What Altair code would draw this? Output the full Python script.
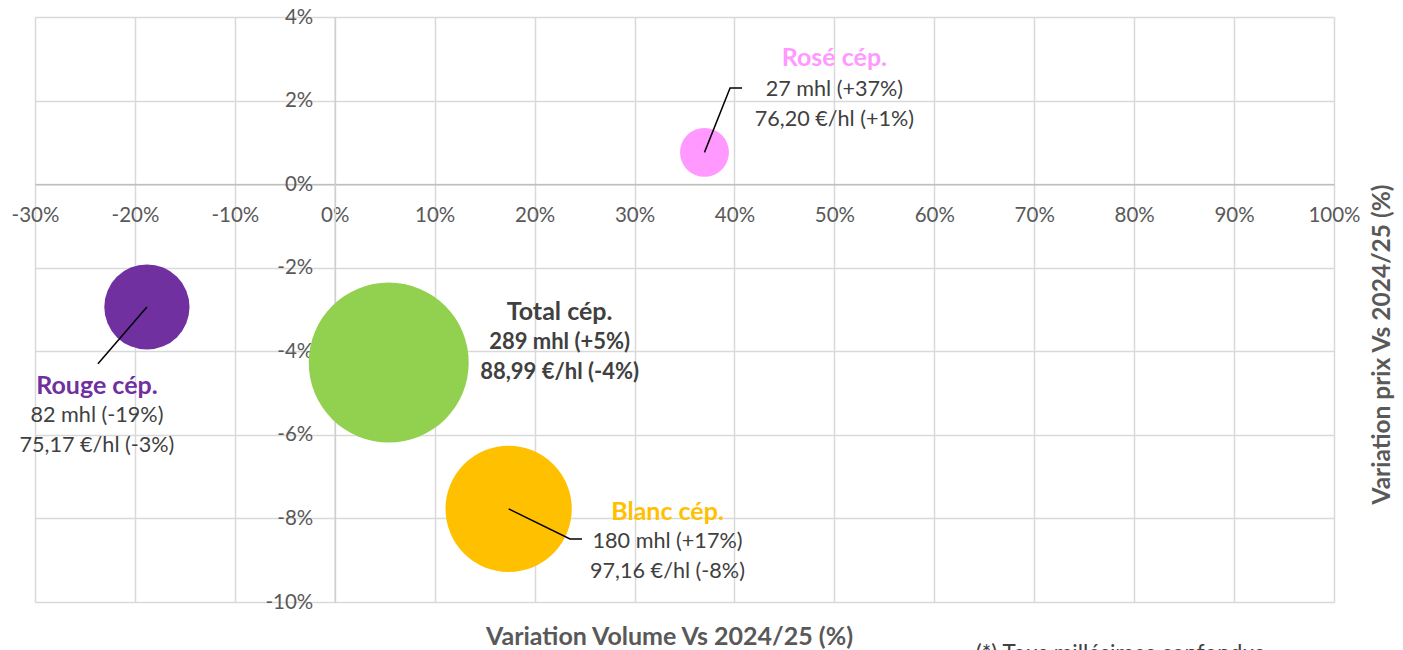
import math
import altair as alt
import pandas as pd

FONT = "Lato"

# ---- data ----
names = ["Rosé cép.", "Rouge cép.", "Total cép.", "Blanc cép."]
vol_var = [37.0, -18.8, 5.4, 17.4]          # % variation volume
price_var = [0.76, -2.94, -4.27, -7.77]     # % variation prix
volume_mhl = [27, 82, 289, 180]
bubble_colors = ["#FF99FF", "#7030A0", "#92D050", "#FFC000"]

name_colors = ["#FF99FF", "#7030A0", "#404040", "#FFC000"]
label_x = [50.0, -23.8, 22.5, 33.3]
name_y = [3.02, -4.83, -3.06, -7.85]
line1_text = ["27 mhl (+37%)", "82 mhl (-19%)", "289 mhl (+5%)", "180 mhl (+17%)"]
line2_text = ["76,20 €/hl (+1%)", "75,17 €/hl (-3%)", "88,99 €/hl (-4%)", "97,16 €/hl (-8%)"]
line1_y = [2.25, -5.55, -3.78, -8.56]
line2_y = [1.53, -6.27, -4.50, -9.28]
is_total = [False, False, True, False]

leader_id = ["Rosé", "Rosé", "Rosé", "Rouge", "Rouge", "Blanc", "Blanc", "Blanc"]
leader_ord = [0, 1, 2, 0, 1, 0, 1, 2]
leader_x = [37.0, 39.56, 40.76, -18.8, -23.7, 17.4, 23.54, 24.74]
leader_y = [0.76, 2.30, 2.30, -2.94, -4.30, -7.77, -8.49, -8.49]

x_ticks = list(range(-30, 101, 10))
y_ticks = list(range(-10, 5, 2))

note_text = ["(*) Tous millésimes confondus"]
note_x = [78.6]
note_y = [-11.25]

# ---- layout ----
W, H = 1299, 585
x_min, x_max = -30, 100
y_min, y_max = -10, 4
y0_px = H * y_max / (y_max - y_min)          # pixel of y = 0 from top
x0_px = W * (0 - x_min) / (x_max - x_min)    # pixel of x = 0 from left
max_r = 80

bubbles = pd.DataFrame({"name": names, "vol": vol_var, "price": price_var,
                        "mhl": volume_mhl, "color": bubble_colors})
labels = pd.DataFrame({"name": names, "x": label_x, "ny": name_y, "ncolor": name_colors,
                       "t1": line1_text, "t2": line2_text, "y1": line1_y, "y2": line2_y,
                       "total": is_total})
leaders = pd.DataFrame({"id": leader_id, "ord": leader_ord, "x": leader_x, "y": leader_y})
note = pd.DataFrame({"t": note_text, "x": note_x, "y": note_y})

xscale = alt.Scale(domain=[x_min, x_max], nice=False, zero=False)
yscale = alt.Scale(domain=[y_min, y_max], nice=False, zero=False)

xaxis = alt.Axis(
    values=x_ticks, labelExpr="datum.value + '%'", offset=-(H - y0_px),
    grid=True, gridColor="#d9d9d9", gridWidth=1.5,
    domainColor="#bfbfbf", domainWidth=1.5, ticks=False, tickSize=0,
    labelPadding=31, labelBaseline="middle", labelFont=FONT, labelFontSize=20.5,
    labelColor="#595959", labelFlush=False, labelOverlap=False,
    title="Variation Volume Vs 2024/25 (%)", titleFont=FONT, titleFontSize=25,
    titleFontWeight="bold", titleColor="#595959",
    titleX=669 - 35, titleY=636 - 17 - y0_px, titleBaseline="middle", titleAlign="center",
)
yaxis = alt.Axis(
    values=y_ticks, labelExpr="datum.value + '%'", offset=-x0_px,
    grid=True, gridColor="#d9d9d9", gridWidth=1.5,
    domainColor="#d0d0d0", domainWidth=1.5, ticks=False, tickSize=0,
    labelPadding=22, labelAlign="right", labelBaseline="middle", labelFont=FONT,
    labelFontSize=20.5, labelColor="#595959", labelFlush=False, labelOverlap=False,
    title="Variation prix Vs 2024/25 (%)", titleFont=FONT, titleFontSize=24.5,
    titleFontWeight="bold", titleColor="#595959", titleAngle=270,
    titleX=1382 - 35 - x0_px, titleY=344 - 17, titleBaseline="middle", titleAlign="center",
)


def X(field):
    return alt.X(field, scale=xscale, axis=xaxis)


def Y(field):
    return alt.Y(field, scale=yscale, axis=yaxis)


base_bubbles = alt.Chart(bubbles).mark_circle(opacity=1).encode(
    x=X("vol:Q"),
    y=Y("price:Q"),
    size=alt.Size("mhl:Q", scale=alt.Scale(domain=[0, max(volume_mhl)],
                                           range=[0, (2 * max_r) ** 2]), legend=None),
    color=alt.Color("color:N", scale=None),
)

lead = alt.Chart(leaders).mark_line(color="black", strokeWidth=1.5).encode(
    x=X("x:Q"), y=Y("y:Q"), detail="id:N", order="ord:Q",
)

name_txt = alt.Chart(labels).mark_text(font=FONT, fontSize=25, fontWeight="bold",
                                       align="center", baseline="middle").encode(
    x=X("x:Q"), y=Y("ny:Q"), text="name:N",
    color=alt.Color("ncolor:N", scale=None),
)

reg = labels[~labels.total]
tot = labels[labels.total]

l1 = alt.Chart(reg).mark_text(font=FONT, fontSize=21.6, align="center", baseline="middle",
                              color="#404040").encode(x=X("x:Q"), y=Y("y1:Q"), text="t1:N")
l2 = alt.Chart(reg).mark_text(font=FONT, fontSize=21.6, align="center", baseline="middle",
                              color="#404040").encode(x=X("x:Q"), y=Y("y2:Q"), text="t2:N")
t1 = alt.Chart(tot).mark_text(font=FONT, fontSize=22, fontWeight="bold", align="center",
                              baseline="middle", color="#404040").encode(
    x=X("x:Q"), y=Y("y1:Q"), text="t1:N")
t2 = alt.Chart(tot).mark_text(font=FONT, fontSize=22, fontWeight="bold", align="center",
                              baseline="middle", color="#404040").encode(
    x=X("x:Q"), y=Y("y2:Q"), text="t2:N")

note_layer = alt.Chart(note).mark_text(font=FONT, fontSize=22.5, align="center",
                                       baseline="middle", color="#404040").encode(
    x=X("x:Q"), y=Y("y:Q"), text="t:N")

chart = alt.layer(base_bubbles, lead, name_txt, l1, l2, t1, t2, note_layer).properties(
    width=W, height=H,
    autosize=alt.AutoSizeParams(type="none"),
    padding={"left": 27, "top": 9, "right": 61, "bottom": 48},
    background="white",
).configure_view(stroke=None)

chart.save("out.html", embed_options={"renderer": "svg", "actions": False})
